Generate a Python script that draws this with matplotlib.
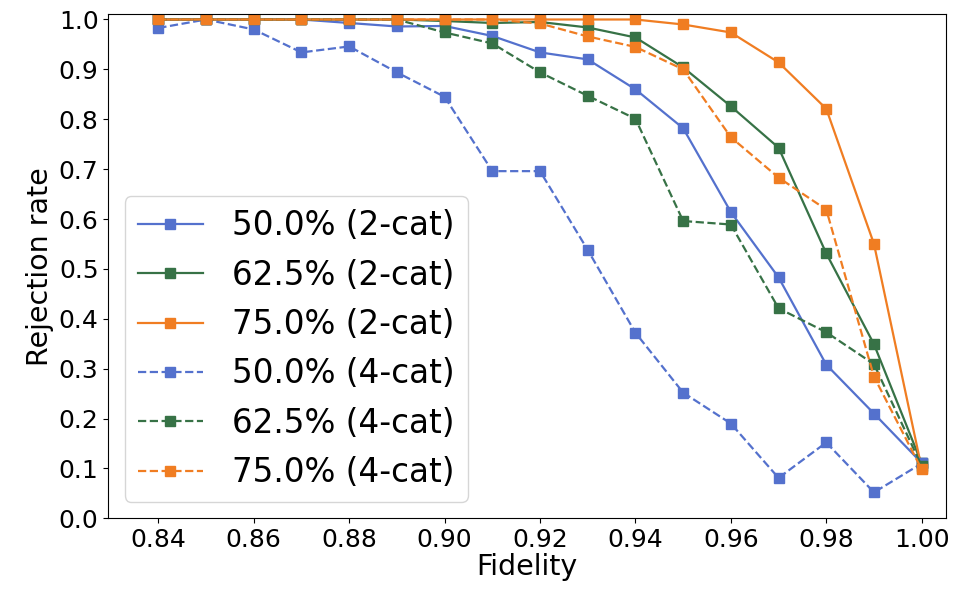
import matplotlib.pyplot as plt

fidelity = [0.84, 0.85, 0.86, 0.87, 0.88, 0.89, 0.90, 0.91, 0.92,
            0.93, 0.94, 0.95, 0.96, 0.97, 0.98, 0.99, 1.00]

# 2-category runs
cat2_50 = [1.0, 1.0, 1.0, 1.0, 0.993, 0.986, 0.987, 0.967, 0.934,
           0.920, 0.860, 0.782, 0.614, 0.483, 0.308, 0.210, 0.111]
cat2_625 = [1.0, 1.0, 1.0, 1.0, 1.0, 1.0, 0.997, 0.993, 0.995,
            0.984, 0.964, 0.904, 0.826, 0.743, 0.531, 0.349, 0.110]
cat2_75 = [1.0, 1.0, 1.0, 1.0, 1.0, 1.0, 1.0, 1.0, 1.0,
           1.0, 1.0, 0.990, 0.974, 0.914, 0.821, 0.550, 0.100]

# 4-category runs
cat4_50 = [0.983, 1.0, 0.980, 0.934, 0.946, 0.894, 0.845, 0.696, 0.696,
           0.538, 0.372, 0.252, 0.190, 0.081, 0.152, 0.052, 0.110]
cat4_625 = [1.0, 1.0, 1.0, 1.0, 1.0, 1.0, 0.974, 0.952, 0.894,
            0.847, 0.801, 0.596, 0.589, 0.421, 0.373, 0.309, 0.105]
cat4_75 = [1.0, 1.0, 1.0, 1.0, 1.0, 1.0, 1.0, 1.0, 0.992,
           0.966, 0.945, 0.900, 0.764, 0.683, 0.619, 0.284, 0.098]

labels = ["50.0% (2-cat)", "62.5% (2-cat)", "75.0% (2-cat)",
          "50.0% (4-cat)", "62.5% (4-cat)", "75.0% (4-cat)"]

BLUE = "#5471cd"
GREEN = "#377246"
ORANGE = "#f07d22"

series = [
    (cat2_50, BLUE, "-"),
    (cat2_625, GREEN, "-"),
    (cat2_75, ORANGE, "-"),
    (cat4_50, BLUE, "--"),
    (cat4_625, GREEN, "--"),
    (cat4_75, ORANGE, "--"),
]

fig = plt.figure(figsize=(9.58, 5.90), dpi=100)
ax = fig.add_axes([0.113, 0.1215, 0.874, 0.8545])

for (vals, color, ls), label in zip(series, labels):
    ax.plot(fidelity, vals, linestyle=ls, color=color, marker="s",
            markersize=6.5, linewidth=1.6, label=label)

ax.set_xlim(0.8295, 1.005)
ax.set_ylim(0.0, 1.0107)
ax.set_xticks([0.84, 0.86, 0.88, 0.90, 0.92, 0.94, 0.96, 0.98, 1.00])
ax.set_yticks([i / 10 for i in range(11)])
ax.tick_params(labelsize=18)
ax.set_xlabel("Fidelity", fontsize=20.5, labelpad=1)
ax.set_ylabel("Rejection rate", fontsize=20.5, labelpad=3)

ax.legend(loc="lower left", fontsize=23.5, handlelength=2.0,
          borderaxespad=0.5, labelspacing=0.5, handletextpad=0.9,
          borderpad=0.4)

fig.savefig("out.png")
